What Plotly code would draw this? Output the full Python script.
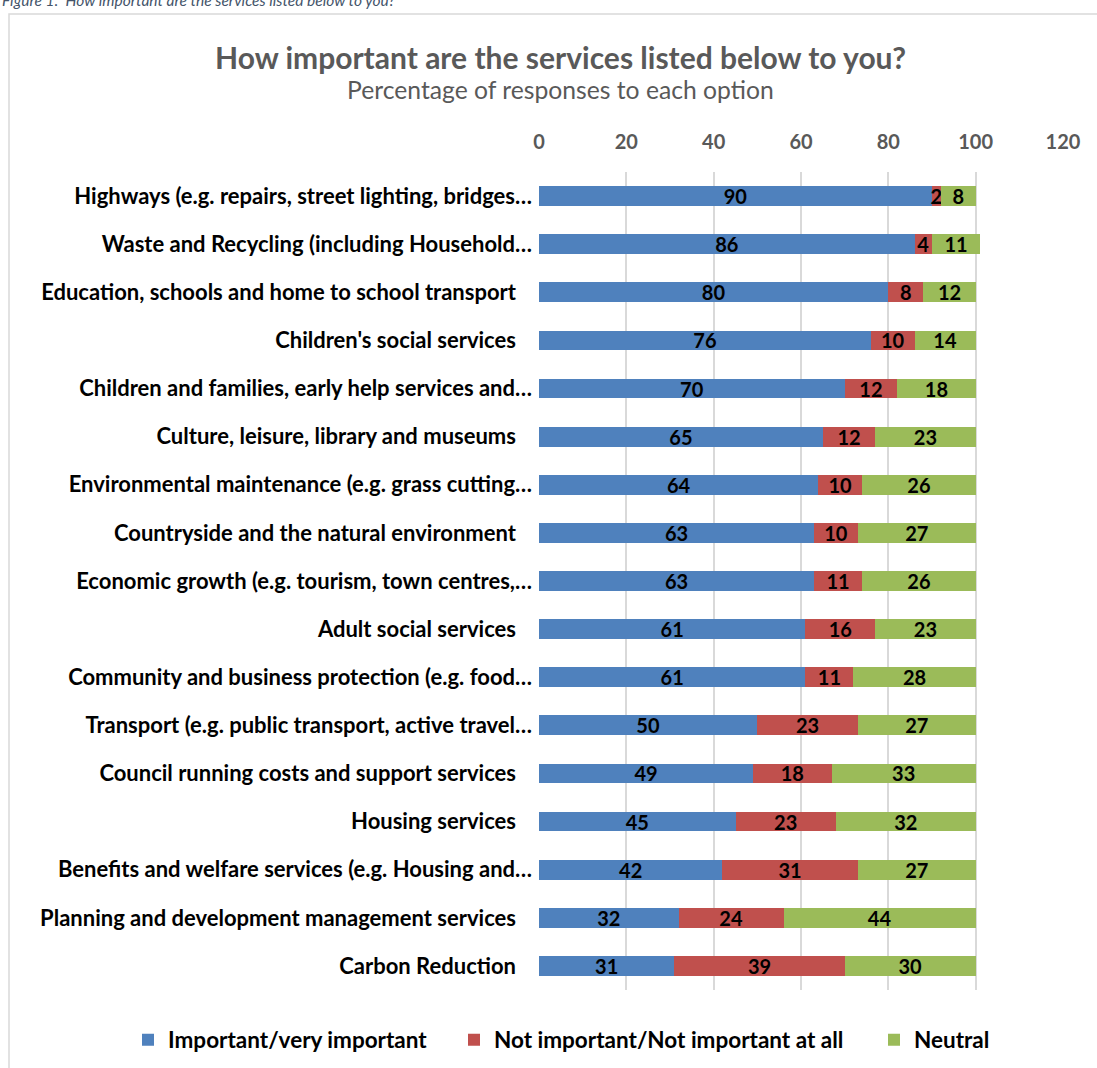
import plotly.graph_objects as go

# Survey services, top to bottom as listed
services = [
    "Highways (e.g. repairs, street lighting, bridges…",
    "Waste and Recycling (including Household…",
    "Education, schools and home to school transport\u00a0\u00a0\u00a0",
    "Children's social services\u00a0\u00a0\u00a0",
    "Children and families, early help services and…",
    "Culture, leisure, library and museums\u00a0\u00a0\u00a0",
    "Environmental maintenance (e.g. grass cutting…",
    "Countryside and the natural environment\u00a0\u00a0\u00a0",
    "Economic growth (e.g. tourism, town centres,…",
    "Adult social services\u00a0\u00a0\u00a0",
    "Community and business protection (e.g. food…",
    "Transport (e.g. public transport, active travel…",
    "Council running costs and support services\u00a0\u00a0\u00a0",
    "Housing services\u00a0\u00a0\u00a0",
    "Benefits and welfare services (e.g. Housing and…",
    "Planning and development management services\u00a0\u00a0\u00a0",
    "Carbon Reduction\u00a0\u00a0\u00a0",
]

important = [90, 86, 80, 76, 70, 65, 64, 63, 63, 61, 61, 50, 49, 45, 42, 32, 31]
not_important = [2, 4, 8, 10, 12, 12, 10, 10, 11, 16, 11, 23, 18, 23, 31, 24, 39]
neutral = [8, 11, 12, 14, 18, 23, 26, 27, 26, 23, 28, 27, 33, 32, 27, 44, 30]

x_ticks = [0, 20, 40, 60, 80, 100, 120]

W, H = 1097, 1068
L, R, T, B = 539, 34, 172, 78
pw, ph = W - L - R, H - T - B

# (name, values, colour, legend id, legend left edge in px)
series = [
    ("Important/very important", important, "#4F81BD", "legend", 128),
    ("Not important/Not important at all", not_important, "#C0504D", "legend2", 454),
    ("Neutral", neutral, "#9BBB59", "legend3", 874),
]

FONT = "Lato, Calibri, sans-serif"


def px(x):
    return (x - L) / pw


def py(y):
    return (H - B - y) / ph


fig = go.Figure()
legends = {}
for name, vals, color, leg, lx in series:
    fig.add_trace(go.Bar(
        y=services, x=vals, name=name, orientation="h",
        marker=dict(color=color, line=dict(width=0)),
        text=vals, texttemplate="%{text}",
        textposition="inside", insidetextanchor="middle", textangle=0,
        textfont=dict(family=FONT, size=20, color="black", weight="bold"),
        legend=leg,
    ))
    legends[leg] = dict(
        orientation="h", xref="container", x=lx / W, xanchor="left",
        yref="container", y=1 - 1040 / H, yanchor="middle",
        font=dict(family=FONT, size=22.5, color="black", weight="bold"),
        itemwidth=30, bgcolor="rgba(0,0,0,0)",
    )

fig.update_layout(
    width=W, height=H,
    margin=dict(l=L, r=R, t=T, b=B),
    barmode="stack", bargap=0.59,
    plot_bgcolor="white", paper_bgcolor="white",
    font=dict(family=FONT, color="black"),
    uniformtext=dict(minsize=20, mode="show"),
    showlegend=True,
    **legends,
    xaxis=dict(
        side="top", range=[0, 120], tickvals=x_ticks,
        showgrid=True, gridcolor="#D9D9D9", gridwidth=2,
        zeroline=False, showline=False, ticks="",
        tickfont=dict(family=FONT, size=20, color="#595959", weight="bold"),
        ticklabelstandoff=18,
    ),
    yaxis=dict(
        autorange="reversed", showgrid=False, zeroline=False,
        showline=False, ticks="",
        tickfont=dict(family=FONT, size=22, color="black", weight="bold"),
        ticklabelstandoff=6,
    ),
    shapes=[dict(
        type="rect", xref="paper", yref="paper",
        x0=px(9), x1=px(1110), y0=py(1080), y1=py(14),
        line=dict(color="#D9D9D9", width=1.5), fillcolor="rgba(0,0,0,0)",
        layer="below",
    )],
    annotations=[
        dict(text="<i>Figure 1:  How important are the services listed below to you?</i>",
             xref="paper", yref="paper", x=px(0), y=py(11),
             xanchor="left", yanchor="bottom", showarrow=False,
             font=dict(family=FONT, size=15.5, color="#44546A")),
        dict(text="<b>How important are the services listed below to you?</b>",
             xref="paper", yref="paper", x=px(560), y=py(57),
             xanchor="center", yanchor="middle", showarrow=False,
             font=dict(family=FONT, size=30, color="#595959")),
        dict(text="Percentage of responses to each option",
             xref="paper", yref="paper", x=px(560), y=py(90),
             xanchor="center", yanchor="middle", showarrow=False,
             font=dict(family=FONT, size=24.7, color="#595959")),
    ],
)

fig.write_html("out.html")
